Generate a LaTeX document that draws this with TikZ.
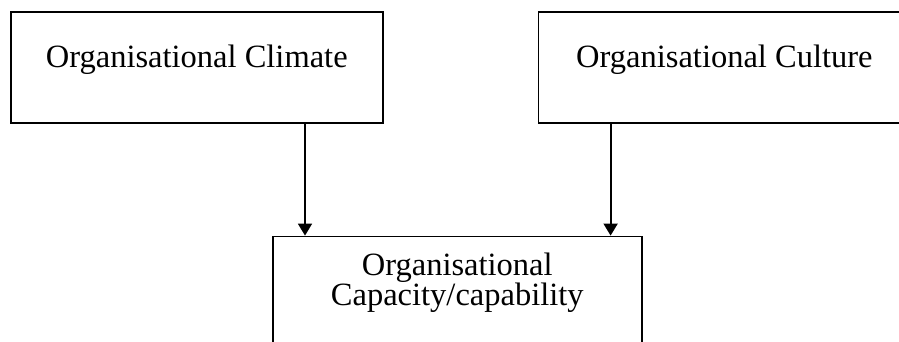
\documentclass[tikz,border=0pt]{standalone}
\usepackage{fontspec}
\setmainfont{Liberation Serif}
\usetikzlibrary{positioning,arrows.meta}

\begin{document}
\begin{tikzpicture}[
    x=1pt, y=-1pt,
    node distance=154pt,
    box/.style={rectangle, draw, line width=1.6pt, inner sep=0pt, minimum width=372pt,
                font=\fontsize{32.5}{30.5}\selectfont, text height=56pt, text depth=55pt},
    capbox/.style={rectangle, draw, line width=1.6pt, inner sep=0pt, text width=369pt, align=center,
                font=\fontsize{32.5}{30.5}\selectfont, text height=39pt, text depth=91pt},
    arrow/.style={-{Triangle[length=12pt,width=14pt]}, line width=1.8pt}
]
    \useasboundingbox (0,0) rectangle (899,341);
    \clip (0,0) rectangle (899,341);

    \node[box, anchor=north west] (climate) at (10,11) {Organisational Climate};
    \node[box, right=of climate] (culture) {Organisational Culture};
    \node[capbox, below=112pt of climate.south, xshift=260.5pt] (capacity) {Organisational\\Capacity/capability};

    \coordinate (in1) at ([xshift=33pt]capacity.north west);
    \coordinate (in2) at ([xshift=-32pt]capacity.north east);

    \draw[arrow] (in1 |- climate.south) -- (in1);
    \draw[arrow] (in2 |- culture.south) -- (in2);
\end{tikzpicture}
\end{document}
